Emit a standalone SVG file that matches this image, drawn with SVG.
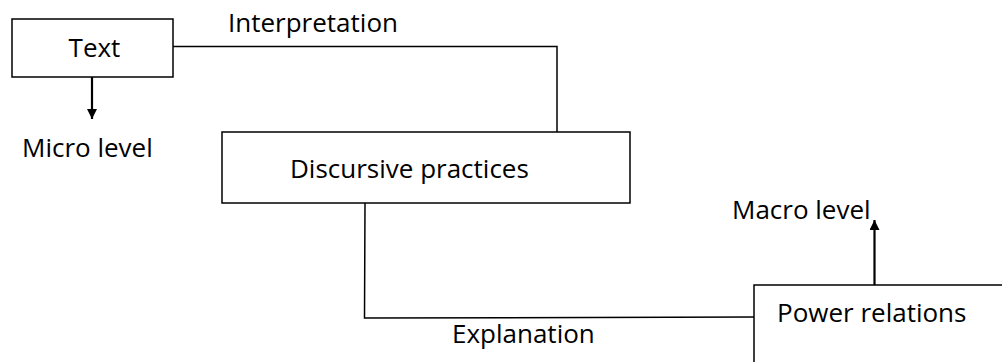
<svg xmlns="http://www.w3.org/2000/svg" width="1002" height="362" viewBox="0 0 1002 362">
<style>
  .box { fill: #fff; stroke: #000; stroke-width: 1.5; }
  .ln { fill: none; stroke: #000; stroke-width: 1.5; }
  .arr { fill: none; stroke: #000; stroke-width: 2.2; }
  text { font-family: "Open Sans", "Liberation Sans", Arial, sans-serif; font-size: 26px; fill: #000; }
</style>
<defs>
  <marker id="ah" viewBox="0 0 10 10" refX="10" refY="5" markerWidth="11" markerHeight="10" markerUnits="userSpaceOnUse" orient="auto">
    <path d="M0,0 L10,5 L0,10 Z" fill="#000"/>
  </marker>
</defs>
<rect width="1002" height="362" fill="#fff"/>
<g id="connectors">
  <polyline class="ln" points="173,46.5 557,46.5 557,136"/>
  <polyline class="ln" points="365,203 364.5,318 754,317"/>
  <line class="arr" x1="92" y1="67" x2="92" y2="119" marker-end="url(#ah)"/>
  <line class="arr" x1="874.5" y1="288" x2="874.5" y2="220" marker-end="url(#ah)"/>
</g>
<g id="node-text">
  <rect class="box" x="12" y="19" width="161" height="58"/>
  <text x="94.5" y="57" text-anchor="middle">Text</text>
</g>
<g id="label-micro">
  <text x="22" y="157">Micro level</text>
</g>
<g id="label-interpretation">
  <text x="228" y="32">Interpretation</text>
</g>
<g id="node-discursive">
  <rect class="box" x="222" y="132" width="408" height="71"/>
  <text x="290" y="178">Discursive practices</text>
</g>
<g id="label-explanation">
  <text x="452" y="343">Explanation</text>
</g>
<g id="label-macro">
  <text x="732" y="219">Macro level</text>
</g>
<g id="node-power">
  <rect class="box" x="754" y="285" width="260" height="90"/>
  <text x="777" y="322">Power relations</text>
</g>
</svg>
